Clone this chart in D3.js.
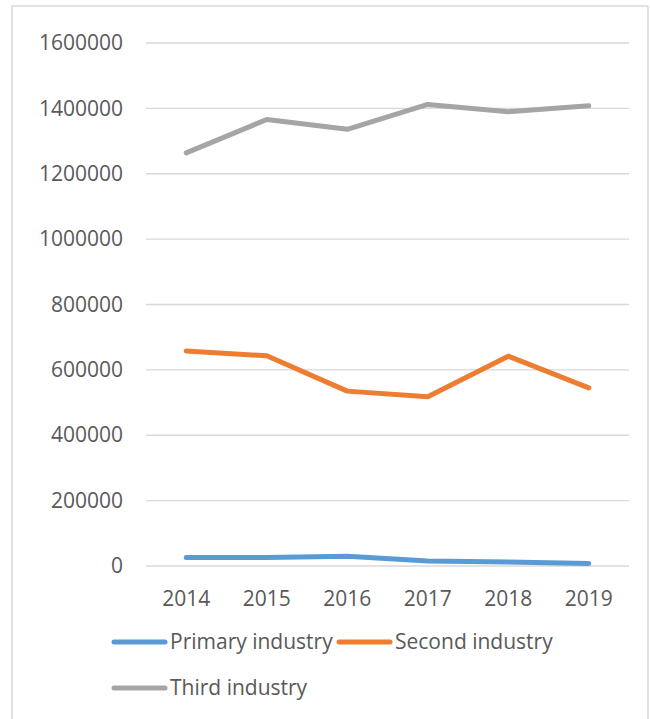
<!DOCTYPE html>
<html>
<head>
<meta charset="utf-8">
<script src="https://cdn.jsdelivr.net/npm/d3@7"></script>
<style>
  body { margin: 0; background: #fff; }
  text { font-family: "Open Sans", sans-serif; fill: #595959; }
</style>
</head>
<body>
<svg width="650" height="719"></svg>
<script>
var years = ["2014", "2015", "2016", "2017", "2018", "2019"];
var primary = [26000, 26000, 30000, 15000, 12000, 8000];
var second = [658000, 643000, 535000, 518000, 642000, 545000];
var third = [1264000, 1366000, 1336000, 1412000, 1390000, 1408000];
var yTicks = [0, 200000, 400000, 600000, 800000, 1000000, 1200000, 1400000, 1600000];

var seriesNames = ["Primary industry", "Second industry", "Third industry"];
var colors = ["#5b9bd5", "#ed7d31", "#a5a5a5"];
var series = [primary, second, third];

var svg = d3.select("svg"),
    margin = {left: 146, right: 21, top: 43, bottom: 153},
    width = +svg.attr("width"),
    height = +svg.attr("height");

// outer chart frame
svg.append("rect")
    .attr("x", 12).attr("y", 6)
    .attr("width", 636).attr("height", 730)
    .attr("fill", "none")
    .attr("stroke", "#d9d9d9")
    .attr("stroke-width", 1.5);

var x = d3.scaleBand()
    .domain(years)
    .range([margin.left, width - margin.right]);

var y = d3.scaleLinear()
    .domain([0, 1600000])
    .range([height - margin.bottom, margin.top]);

// gridlines
svg.append("g")
    .selectAll("line")
    .data(yTicks)
    .enter().append("line")
    .attr("x1", margin.left)
    .attr("x2", width - margin.right)
    .attr("y1", function(d) { return y(d); })
    .attr("y2", function(d) { return y(d); })
    .attr("stroke", "#d9d9d9")
    .attr("stroke-width", 1.3);

// y axis labels
var yAxis = d3.axisLeft(y).tickValues(yTicks).tickSize(0).tickPadding(23).tickFormat(d3.format("d"));
svg.append("g")
    .attr("transform", "translate(" + margin.left + ",0)")
    .call(yAxis)
    .call(function(g) { g.select(".domain").remove(); })
    .selectAll("text")
    .style("font-size", "21px")
    .style("font-family", "Open Sans, sans-serif")
    .attr("fill", "#595959");

// x axis labels
var xAxis = d3.axisBottom(x).tickSize(0).tickPadding(25);
svg.append("g")
    .attr("transform", "translate(0," + y(0) + ")")
    .call(xAxis)
    .call(function(g) { g.select(".domain").remove(); })
    .selectAll("text")
    .style("font-size", "21px")
    .style("font-family", "Open Sans, sans-serif")
    .attr("fill", "#595959");

var line = d3.line()
    .x(function(d, i) { return x(years[i]) + x.bandwidth() / 2; })
    .y(function(d) { return y(d); });

svg.append("g")
    .selectAll("path")
    .data(series)
    .enter().append("path")
    .attr("d", line)
    .attr("fill", "none")
    .attr("stroke", function(d, i) { return colors[i]; })
    .attr("stroke-width", 5)
    .attr("stroke-linecap", "round")
    .attr("stroke-linejoin", "round");

// legend
var legendPos = [{x: 112, y: 642}, {x: 337, y: 642}, {x: 112, y: 688}];
var legend = svg.append("g")
    .selectAll("g")
    .data(seriesNames)
    .enter().append("g")
    .attr("transform", function(d, i) { return "translate(" + legendPos[i].x + "," + legendPos[i].y + ")"; });

legend.append("line")
    .attr("x1", 2).attr("x2", 53)
    .attr("stroke", function(d, i) { return colors[i]; })
    .attr("stroke-width", 5)
    .attr("stroke-linecap", "round");

legend.append("text")
    .attr("x", 58)
    .attr("dy", "0.35em")
    .style("font-size", "21px")
    .text(function(d) { return d; });
</script>
</body>
</html>
